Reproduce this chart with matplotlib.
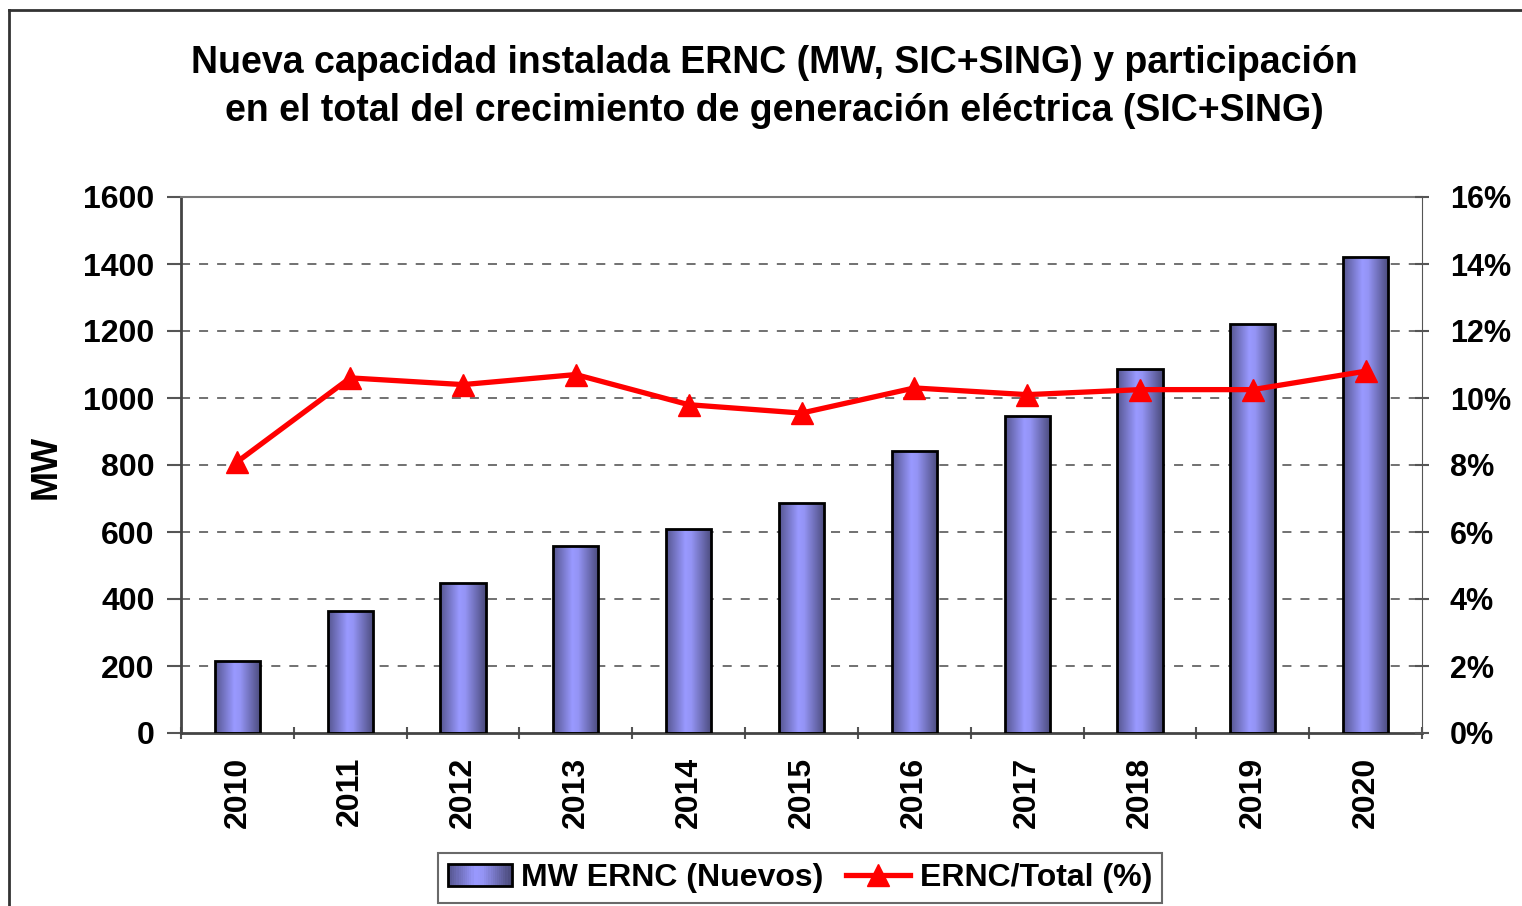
import numpy as np
import matplotlib
matplotlib.use("Agg")
import matplotlib.pyplot as plt
from matplotlib.colors import LinearSegmentedColormap
from matplotlib.patches import Rectangle
from matplotlib.lines import Line2D
from matplotlib.legend_handler import HandlerBase

years = ["2010", "2011", "2012", "2013", "2014", "2015", "2016", "2017", "2018", "2019", "2020"]
mw_ernc = [215, 365, 448, 557, 610, 688, 843, 945, 1088, 1220, 1422]
pct_ernc = [8.1, 10.6, 10.4, 10.7, 9.8, 9.55, 10.3, 10.1, 10.25, 10.25, 10.8]
left_ticks = [0, 200, 400, 600, 800, 1000, 1200, 1400, 1600]
right_ticks = [0, 2, 4, 6, 8, 10, 12, 14, 16]

plt.rcParams['font.family'] = ['Liberation Sans', 'DejaVu Sans']
plt.rcParams['font.weight'] = 'bold'

grad_cmap = LinearSegmentedColormap.from_list(
    "bar", [(0.0, "#55558f"), (0.42, "#9999ff"), (0.55, "#9494f5"), (1.0, "#4a4a7a")])

fig = plt.figure(figsize=(15.22, 9.06), dpi=100)
ax = fig.add_axes([181/1522, 1-733/906, 1241/1522, 536/906])
x = np.arange(len(years))
bw = 0.4
bars = ax.bar(x, mw_ernc, width=bw, facecolor='none', edgecolor='black', linewidth=2, zorder=3)
grad = np.linspace(0, 1, 256).reshape(1, -1)
for b in bars:
    im = ax.imshow(grad, cmap=grad_cmap, aspect='auto',
                   extent=[b.get_x(), b.get_x()+b.get_width(), 0, b.get_height()],
                   zorder=2.5, interpolation='bilinear')
    im.set_clip_path(b)

TS = 23
ax.set_xlim(-0.5, len(years)-0.5)
ax.set_ylim(0, 1600)
ax.set_yticks(left_ticks)
ax.set_yticklabels([str(t) for t in left_ticks], fontsize=TS, fontweight='bold')
ax.set_xticks(x)
ax.set_xticklabels(years, rotation=90, fontsize=TS, fontweight='bold')
ax.tick_params(axis='x', length=0, pad=17)
ax.set_xticks(np.arange(-0.5, len(years), 1), minor=True)
ax.tick_params(axis='x', which='minor', length=9, direction='inout', color='#555555', width=1.5)
ax.tick_params(axis='y', length=10, direction='out', color='#555555', width=1.5, pad=9)
for yv in left_ticks[1:-1]:
    ax.axhline(yv, color='#666666', lw=1.3, ls=(0, (5, 5)), zorder=1)
ax.spines['top'].set_color('#777777')
ax.spines['right'].set_color('#555555')
ax.spines['left'].set_color('#444444')
ax.spines['bottom'].set_color('#444444')
ax.spines['left'].set_linewidth(2)
ax.spines['bottom'].set_linewidth(2)
ax.spines['top'].set_linewidth(1.5)
ax.set_ylabel("MW", fontsize=26, fontweight='bold')
ax.yaxis.set_label_coords((64-181)/1241, (733-467)/536)

ax2 = ax.twinx()
ax2.set_ylim(0, 16)
ax2.set_yticks(right_ticks)
ax2.set_yticklabels([f"{t}%" for t in right_ticks], fontsize=22, fontweight='bold')
ax2.tick_params(axis='y', length=10, direction='inout', color='#555555', width=1.5, pad=15)
for s in ax2.spines.values():
    s.set_visible(False)
ax2.plot(x, pct_ernc, color='#ff0000', lw=3.8, marker='^', markersize=16,
         markeredgecolor='#ff0000', zorder=5, solid_capstyle='round')

fig.text(0.5085, 1-87/906, "Nueva capacidad instalada ERNC (MW, SIC+SING) y participación\nen el total del crecimiento de generación eléctrica (SIC+SING)",
         ha='center', va='center', fontsize=27, fontweight='bold', linespacing=1.45)

class GradHandler(HandlerBase):
    def create_artists(self, legend, orig_handle, xdescent, ydescent, width, height, fontsize, trans):
        arts = []
        n = 30
        w = width / n
        for i in range(n):
            r = Rectangle((-xdescent + i*w, -ydescent), w*1.05, height,
                          facecolor=grad_cmap(i/(n-1)), edgecolor='none', transform=trans)
            arts.append(r)
        arts.append(Rectangle((-xdescent, -ydescent), width, height, facecolor='none',
                              edgecolor='black', lw=2, transform=trans))
        return arts

bar_handle = Rectangle((0, 0), 1, 1)
line_handle = Line2D([], [], color='#ff0000', lw=3.8, marker='^', markersize=16)
leg = fig.legend([bar_handle, line_handle], ["MW ERNC (Nuevos)", "ERNC/Total (%)"],
                 handler_map={Rectangle: GradHandler()},
                 loc='center', bbox_to_anchor=(800/1522, 1-878/906), ncol=2,
                 prop={'size': 23, 'weight': 'bold'}, frameon=True, fancybox=False,
                 edgecolor='#444444', handlelength=2.0, handletextpad=0.3,
                 columnspacing=0.7, borderpad=0.3)
leg.get_frame().set_linewidth(1.5)

fig.add_artist(Line2D([9/1522, 9/1522], [0, 1-10/906], color='#333333', lw=2, transform=fig.transFigure))
fig.add_artist(Line2D([9/1522, 1], [1-10/906, 1-10/906], color='#333333', lw=2, transform=fig.transFigure))

fig.savefig("out.png", dpi=100)
